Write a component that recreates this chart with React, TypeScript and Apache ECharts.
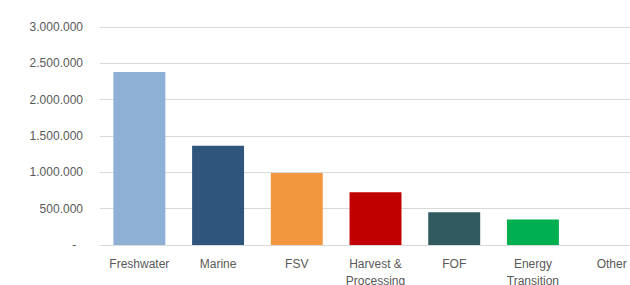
import React, { useEffect, useRef } from "react";
import * as echarts from "echarts";

const categories = ["Freshwater", "Marine", "FSV", "Harvest &\nProcessing", "FOF", "Energy\nTransition", "Other"];
const values = [2380000, 1365000, 990000, 725000, 452000, 350000, 0];
const colors = ["#8EB0D4", "#30557D", "#F3973F", "#C00000", "#305A60", "#00B050", "#7F7F7F"];
const yTicks = [0, 500000, 1000000, 1500000, 2000000, 2500000, 3000000];

function fmt(v: number): string {
  if (v === 0) return "-  ";
  return String(Math.round(v)).replace(/\B(?=(\d{3})+(?!\d))/g, ".");
}

export default function App() {
  const ref = useRef<HTMLDivElement>(null);
  useEffect(() => {
    if (!ref.current) return;
    const chart = echarts.init(ref.current, undefined, { renderer: "svg" });
    chart.setOption({
      animation: false,
      backgroundColor: "#ffffff",
      textStyle: { fontFamily: "Liberation Sans" },
      grid: {
        left: 100,
        top: 27,
        width: 551,
        height: 218,
        containLabel: false,
        outerBoundsMode: "none",
      },
      xAxis: {
        type: "category",
        data: categories,
        axisLine: { show: true, lineStyle: { color: "#D9D9D9", width: 1 } },
        axisTick: { show: false },
        axisLabel: { color: "#595959", fontSize: 12, margin: 10, lineHeight: 17, interval: 0 },
      },
      yAxis: {
        type: "value",
        min: yTicks[0],
        max: yTicks[yTicks.length - 1],
        interval: yTicks[1] - yTicks[0],
        axisLine: { show: false },
        axisTick: { show: false },
        splitLine: { lineStyle: { color: "#D9D9D9", width: 1 } },
        axisLabel: { color: "#595959", fontSize: 12, margin: 17, formatter: (v: number) => fmt(v) },
      },
      series: [
        {
          type: "bar",
          barWidth: "66%",
          data: values.map((v, i) => ({ value: v, itemStyle: { color: colors[i] } })),
        },
      ],
    });
    return () => chart.dispose();
  }, []);
  return (
    <div
      ref={ref}
      style={{ position: "fixed", left: 0, top: 0, width: 630, height: 285, background: "#fff" }}
    />
  );
}
